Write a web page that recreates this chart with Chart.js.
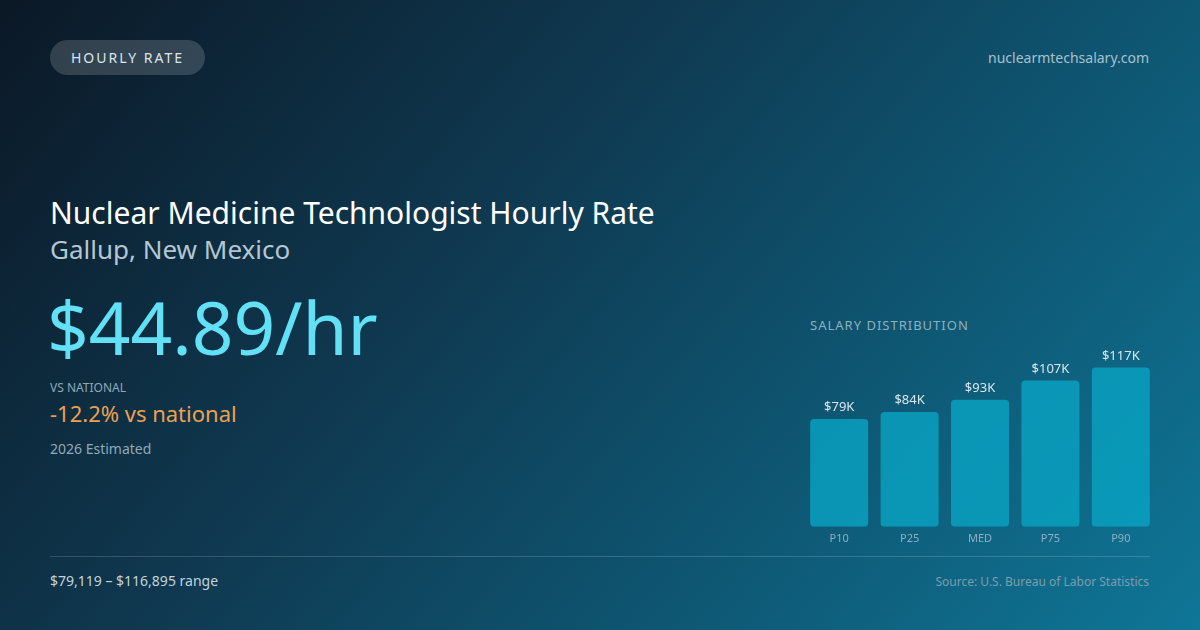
<!DOCTYPE html>
<html>
<head>
<meta charset="utf-8">
<script src="https://cdn.jsdelivr.net/npm/chart.js@4.4.1/dist/chart.umd.min.js"></script>
<style>
  html, body { margin: 0; padding: 0; }
  body {
    width: 1200px; height: 630px; overflow: hidden; position: relative;
    font-family: "Noto Sans", sans-serif;
    background: linear-gradient(130deg, #0b1826 0%, #0f3a52 40%, #0e5874 70%, #0f7697 100%);
  }
  .abs { position: absolute; white-space: nowrap; }
  .badge {
    left: 50px; top: 40px; width: 155px; height: 35px; border-radius: 18px;
    background: rgba(255,255,255,0.16); color: #dbe5ec; font-size: 14px;
    letter-spacing: 2px; line-height: 35px; text-align: center;
  }
  .site { right: 51px; top: 48px; font-size: 14px; color: #a8c0ce; }
  .title { left: 50px; top: 192px; font-size: 30px; color: #ffffff; }
  .sub { left: 50px; top: 231px; font-size: 26px; color: #b4c6d2; }
  .big { left: 47px; top: 283px; font-size: 73px; color: #62e1f6; line-height: 1.2; }
  .vsl { left: 50px; top: 379px; font-size: 12px; color: #8fa8b7; }
  .vs { left: 50px; top: 398px; font-size: 22px; color: #eda050; }
  .est { left: 50px; top: 439px; font-size: 14px; color: #91a9b7; }
  .rule { left: 50px; top: 556px; width: 1100px; height: 1px; background: rgba(255,255,255,0.16); }
  .range { left: 50px; top: 571px; font-size: 14px; color: #c3d2dc; }
  .src { right: 51px; top: 573px; font-size: 12px; color: #7e9cad; }
  .dist { left: 810px; top: 316px; font-size: 13px; letter-spacing: 1px; color: #8db0c1; }
  #wrap { position: absolute; left: 804px; top: 340px; width: 352px; height: 210px; }
</style>
</head>
<body>
<div class="abs badge">HOURLY RATE</div>
<div class="abs site">nuclearmtechsalary.com</div>
<div class="abs title">Nuclear Medicine Technologist Hourly Rate</div>
<div class="abs sub">Gallup, New Mexico</div>
<div class="abs big">$44.89/hr</div>
<div class="abs vsl">VS NATIONAL</div>
<div class="abs vs">-12.2% vs national</div>
<div class="abs est">2026 Estimated</div>
<div class="abs dist">SALARY DISTRIBUTION</div>
<div class="abs rule"></div>
<div class="abs range">$79,119 – $116,895 range</div>
<div class="abs src">Source: U.S. Bureau of Labor Statistics</div>
<div id="wrap"><canvas id="bars"></canvas></div>
<script>
// salary percentiles (annual, USD)
var percentiles = ["P10", "P25", "MED", "P75", "P90"];
var salaries = [79119, 84200, 93100, 107300, 116895];
var barLabels = ["$79K", "$84K", "$93K", "$107K", "$117K"];

// labels above each bar
var topLabels = {
  id: "topLabels",
  afterDatasetsDraw: function (chart) {
    var ctx = chart.ctx;
    var meta = chart.getDatasetMeta(0);
    ctx.save();
    ctx.font = "13px 'Noto Sans'";
    ctx.fillStyle = "#d9e6ee";
    ctx.textAlign = "center";
    ctx.textBaseline = "bottom";
    meta.data.forEach(function (bar, i) {
      ctx.fillText(barLabels[i], bar.x, bar.y - 5);
    });
    ctx.restore();
  }
};

var barCanvas = document.getElementById("bars").getContext("2d");
new Chart(barCanvas, {
  type: "bar",
  data: {
    labels: percentiles,
    datasets: [{
      data: salaries,
      backgroundColor: "rgba(10,162,194,0.82)",
      borderRadius: 4,
      borderSkipped: false,
      barPercentage: 0.824,
      categoryPercentage: 1
    }]
  },
  options: {
    responsive: true,
    maintainAspectRatio: false,
    animation: false,
    layout: { padding: 0 },
    plugins: { legend: { display: false }, tooltip: { enabled: false } },
    scales: {
      x: {
        grid: { display: false, drawTicks: false },
        border: { display: false },
        ticks: { color: "#8fb0c0", font: { size: 11, family: "Noto Sans" }, padding: 5 }
      },
      y: {
        display: false,
        min: 0,
        max: 137000
      }
    }
  },
  plugins: [topLabels]
});
</script>
</body>
</html>
